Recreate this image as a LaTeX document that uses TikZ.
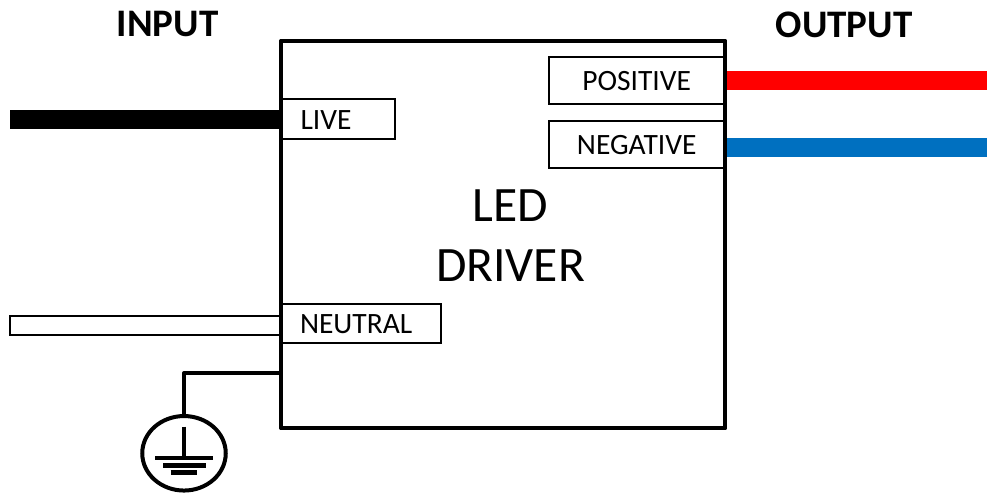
\documentclass[tikz,border=0pt]{standalone}
\usepackage{fontspec}
\setmainfont{Carlito}
\usetikzlibrary{shapes.geometric}
\tikzset{
  portbox/.style={draw,line width=2pt,rectangle,outer sep=0pt,inner ysep=0pt,text height=20.6pt,text depth=0pt,font=\fontsize{29.5}{35}\selectfont},
  leftport/.style={portbox,inner xsep=19pt,align=left,anchor=center},
  wirefat/.style={line width=19pt},
}
\begin{document}
\begin{tikzpicture}[x=1pt,y=-1pt]
\useasboundingbox (0,0) rectangle (987,494);
\coordinate (liveend) at (10,119.5);
\coordinate (redend) at (987,80.5);
\coordinate (blueend) at (987,147.5);
\coordinate (gndtap) at (281,373);
\node[draw,line width=2pt,rectangle,outer sep=0pt,inner sep=0pt,minimum width=271pt,minimum height=19pt,fill=white] (neutralwire) at (145,325.2) {};
\node[draw,line width=4pt,line join=round,rectangle,outer sep=0pt,minimum width=443.5pt,minimum height=387pt] (driver) at (503.2,234.5) {};
\node[portbox,minimum width=174.5pt,minimum height=47.5pt] (positive) at (636.7,80.4) {POSITIVE};
\node[portbox,minimum width=174.5pt,minimum height=47pt] (negative) at (636.7,144.2) {NEGATIVE};
\node[leftport,minimum width=113pt,minimum height=40pt,text width=75pt] (live) at (338,119) {LIVE};
\node[leftport,minimum width=160pt,minimum height=38.5pt,text width=122pt] (neutral) at (361,323.5) {NEUTRAL};
\node[font=\bfseries\fontsize{39}{47}\selectfont,outer sep=0pt] (input) at (167.5,24.5) {INPUT};
\node[font=\bfseries\fontsize{39}{47}\selectfont,outer sep=0pt] (output) at (844,24.5) {OUTPUT};
\node[font=\fontsize{49.5}{60}\selectfont,align=center,outer sep=0pt] (title) at (510.5,236) {LED\\DRIVER};
\node[draw,line width=4pt,ellipse,outer sep=0pt,inner sep=0pt,minimum width=83.5pt,minimum height=74.5pt] (earth) at (184,453.3) {};
\draw[wirefat] (liveend) -- (live.west |- liveend);
\draw[wirefat,color={rgb,255:red,255;green,0;blue,0}] (positive.east |- redend) -- (redend);
\draw[wirefat,color={rgb,255:red,0;green,112;blue,192}] (negative.east |- blueend) -- (blueend);
\draw[line width=4pt,line join=round] (gndtap) -| (earth.north);
\draw[line width=3.6pt] (184,426.7) -- (184,456);
\draw[line width=4.3pt] (155,457.8) -- (213,457.8);
\draw[line width=4.6pt] (163.3,465.3) -- (205.7,465.3);
\draw[line width=4.4pt] (170.7,472.5) -- (196.7,472.5);
\draw[line width=4pt,line join=round] (driver.north west) rectangle (driver.south east);
\end{tikzpicture}
\end{document}
